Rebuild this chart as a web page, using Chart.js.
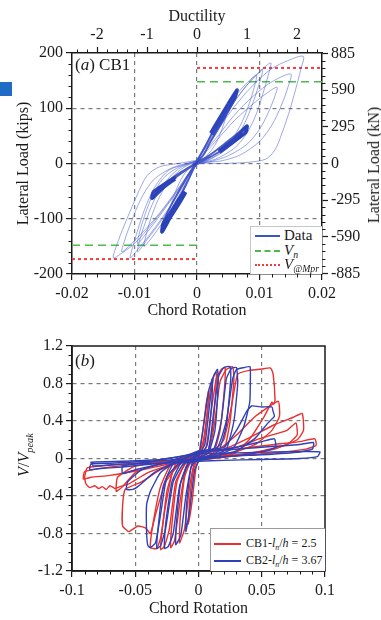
<!DOCTYPE html>
<html>
<head>
<meta charset="utf-8">
<script src="https://cdn.jsdelivr.net/npm/chart.js@4.4.1/dist/chart.umd.min.js"></script>
<style>
html,body{margin:0;padding:0;background:#fff;}
body{width:381px;height:620px;position:relative;overflow:hidden;font-family:'Liberation Serif','Times New Roman',serif;color:#1a1a1a;}
canvas{position:absolute;left:0;}
#ca{top:0;width:381px;height:320px;}
#cb{top:320px;width:381px;height:300px;}
.t{position:absolute;white-space:nowrap;line-height:1;}
.leg{position:absolute;background:#fff;}
.row{position:absolute;left:0;right:0;height:14px;}
.smp{position:absolute;height:0;}
.txt{position:absolute;top:0;line-height:14px;white-space:nowrap;}
sub{font-size:65%;vertical-align:-0.35em;line-height:0;}
</style>
</head>
<body>
<canvas id="ca" width="381" height="320"></canvas>
<canvas id="cb" width="381" height="300"></canvas>

<div style="position:absolute;left:0;top:82px;width:12px;height:14px;background:#1f6cc4;"></div>

<div class="t" style="left:75px;top:56px;font-size:17px;">(<i>a</i>) CB1</div>
<div class="t" style="left:75px;top:352px;font-size:17px;">(<i>b</i>)</div>

<div class="t" style="left:374px;top:165px;font-size:16px;transform:translate(-50%,-50%) rotate(-90deg);">Lateral Load (kN)</div>
<div class="t" style="left:24px;top:455px;font-size:16px;transform:translate(-50%,-50%) rotate(-90deg);"><i>V</i>/<i>V</i><sub><i>peak</i></sub></div>

<div class="leg" style="left:250px;top:226px;width:71px;height:47px;border-left:1px solid #c8c8c8;border-top:1px solid #c8c8c8;">
  <div class="row" style="top:1px;">
    <div class="smp" style="left:4px;width:25px;top:7px;border-top:2px solid #3a55c8;"></div>
    <div class="txt" style="left:33px;font-size:15px;">Data</div>
  </div>
  <div class="row" style="top:16px;">
    <div class="smp" style="left:4px;width:25px;top:7px;border-top:2px dashed #4cbb4c;"></div>
    <div class="txt" style="left:33px;font-size:15px;"><i>V</i><sub><i>n</i></sub></div>
  </div>
  <div class="row" style="top:30px;">
    <div class="smp" style="left:4px;width:25px;top:7px;border-top:2px dotted #f03c3c;"></div>
    <div class="txt" style="left:33px;font-size:15px;"><i>V</i><sub><i>@Mpr</i></sub></div>
  </div>
</div>

<div class="leg" style="left:210px;top:528px;width:114px;height:42px;border:1px solid #9a9a9a;border-right:none;border-bottom:none;">
  <div class="row" style="top:7px;">
    <div class="smp" style="left:3px;width:27px;top:7px;border-top:2px solid #e83030;"></div>
    <div class="txt" style="left:35px;font-size:12px;">CB1-<i>l</i><sub><i>n</i></sub>/<i>h</i> = 2.5</div>
  </div>
  <div class="row" style="top:24px;">
    <div class="smp" style="left:3px;width:27px;top:7px;border-top:2px solid #3040b8;"></div>
    <div class="txt" style="left:35px;font-size:12px;">CB2-<i>l</i><sub><i>n</i></sub>/<i>h</i> = 3.67</div>
  </div>
</div>

<script>
const FONT = "'Liberation Serif','Times New Roman',serif";
const INK = '#1a1a1a';

/* ===== Panel (a): chord rotation (rad) vs lateral load (kips) ===== */
const aXTicks = [-0.02, -0.01, 0, 0.01, 0.02];
const aYTicks = [-200, -100, 0, 100, 200];
const aDuctTicks = [-2, -1, 0, 1, 2];
const aKnTicks = [-885, -590, -295, 0, 295, 590, 885];
const KIPS_TO_KN = 4.4482;
const vnLevels = [148, -148];
const vMprLevels = [173, -173];

const aLoopA = [[0,6],[0.002,38],[0.004,72],[0.006,103],[0.008,130],[0.010,153],[0.012,172],[0.0145,186],[0.017,194],[0.0166,170],[0.0158,135],[0.0148,95],[0.0136,55],[0.0125,25],[0.011,8],[0.008,2],[0.004,0],[0,-2],[-0.002,-30],[-0.004,-62],[-0.006,-92],[-0.008,-120],[-0.010,-145],[-0.012,-162],[-0.0134,-171],[-0.0126,-140],[-0.0112,-100],[-0.0095,-55],[-0.008,-22],[-0.006,-6],[-0.003,0],[0,6]];
const aLoopB = [[0,5],[0.002,40],[0.004,78],[0.006,112],[0.008,142],[0.010,166],[0.0118,182],[0.0114,160],[0.0105,125],[0.0095,90],[0.008,55],[0.006,28],[0.003,8],[0,-2],[-0.002,-35],[-0.004,-72],[-0.006,-105],[-0.008,-135],[-0.0095,-156],[-0.0107,-171],[-0.0102,-148],[-0.0092,-110],[-0.008,-72],[-0.0065,-38],[-0.0045,-12],[-0.002,-2],[0,5]];
const aLoopC = [[0,5],[0.003,45],[0.006,88],[0.009,122],[0.012,148],[0.015,162],[0.0146,140],[0.0135,105],[0.012,70],[0.010,40],[0.007,16],[0.004,5],[0,-2],[-0.003,-45],[-0.006,-90],[-0.009,-128],[-0.012,-160],[-0.0116,-140],[-0.0105,-105],[-0.009,-65],[-0.007,-30],[-0.004,-8],[0,5]];
const aLoopD = [[0,4],[0.003,40],[0.006,78],[0.009,108],[0.011,126],[0.0128,138],[0.0124,120],[0.0114,92],[0.010,62],[0.008,35],[0.005,14],[0.002,3],[0,-2],[-0.003,-48],[-0.006,-95],[-0.008,-125],[-0.0095,-145],[-0.0092,-125],[-0.0084,-95],[-0.0072,-60],[-0.0055,-28],[-0.003,-7],[0,4]];
const aLoopE = [[0,5],[0.002,45],[0.004,85],[0.006,120],[0.008,146],[0.0095,160],[0.0092,140],[0.0084,110],[0.0072,75],[0.0055,42],[0.0035,18],[0.0015,5],[0,-1],[-0.002,-40],[-0.004,-80],[-0.006,-115],[-0.0075,-138],[-0.0085,-150],[-0.0082,-132],[-0.0074,-100],[-0.0062,-65],[-0.0045,-32],[-0.0025,-10],[0,5]];
const aLoopF = [[0,4],[0.002,48],[0.0035,82],[0.005,110],[0.0048,92],[0.004,62],[0.0028,32],[0.0012,10],[0,0],[-0.0015,-35],[-0.003,-70],[-0.0045,-100],[-0.0043,-82],[-0.0035,-52],[-0.0022,-22],[-0.001,-5],[0,4]];
const aLoopG = [[0,5],[0.002,42],[0.004,80],[0.006,113],[0.008,142],[0.0095,160],[0.0105,170],[0.0101,150],[0.0092,118],[0.008,82],[0.0065,50],[0.0045,24],[0.002,7],[0,0],[-0.002,-36],[-0.004,-74],[-0.006,-108],[-0.008,-138],[-0.0095,-160],[-0.0092,-140],[-0.0083,-108],[-0.007,-70],[-0.0052,-36],[-0.003,-10],[0,5]];
const aLoopH = [[0,5],[0.0015,35],[0.003,68],[0.0045,98],[0.0064,133],[0.0062,120],[0.0052,98],[0.0038,70],[0.0022,40],[0.001,15],[0,2],[-0.0012,-25],[-0.0025,-55],[-0.004,-88],[-0.0056,-124],[-0.0055,-110],[-0.0047,-88],[-0.0034,-60],[-0.002,-32],[-0.0008,-10],[0,5]];
const aLoopI = [[0,3],[0.002,15],[0.004,32],[0.006,50],[0.008,68],[0.0078,58],[0.0065,44],[0.0045,28],[0.0025,14],[0.001,5],[0,0],[-0.0015,-10],[-0.003,-22],[-0.005,-40],[-0.0072,-63],[-0.007,-54],[-0.0058,-42],[-0.0042,-28],[-0.0025,-15],[-0.001,-5],[0,3]];
/* heavy finger segments (repeated early cycles) */
const aFinger1 = [[0.0022,55],[0.0035,80],[0.005,108],[0.0064,133],[0.006,118],[0.0048,95],[0.0034,70],[0.0024,52]];
const aFinger2 = [[0.0035,22],[0.0055,40],[0.0068,54],[0.008,68],[0.0078,56],[0.0064,44],[0.005,32],[0.0036,20]];
const aFinger3 = [[-0.0018,-52],[-0.003,-75],[-0.0043,-98],[-0.0056,-124],[-0.0054,-108],[-0.0042,-88],[-0.003,-66],[-0.002,-50]];
const aFinger4 = [[-0.0035,-28],[-0.005,-40],[-0.006,-50],[-0.0072,-63],[-0.007,-52],[-0.0058,-42],[-0.0045,-32],[-0.0034,-25]];

/* ===== Panel (b): chord rotation vs V/Vpeak ===== */
const bXTicks = [-0.1, -0.05, 0, 0.05, 0.1];
const bYTicks = [-1.2, -0.8, -0.4, 0, 0.4, 0.8, 1.2];

const cb1Loop1 = [[0,0],[0.003,0.25],[0.006,0.58],[0.008,0.72],[0.007,0.5],[0.004,0.15],[0.001,0.02],[-0.002,-0.1],[-0.005,-0.45],[-0.008,-0.7],[-0.007,-0.45],[-0.004,-0.12],[-0.001,-0.01],[0,0]];
const cb1Loop2 = [[0,0.02],[0.004,0.2],[0.008,0.6],[0.011,0.85],[0.014,0.92],[0.0135,0.7],[0.011,0.3],[0.007,0.06],[0.002,0.02],[-0.003,-0.04],[-0.007,-0.3],[-0.011,-0.75],[-0.015,-0.9],[-0.0145,-0.65],[-0.011,-0.2],[-0.006,-0.03],[0,0.02]];
const cb1Loop3 = [[0,0.03],[0.006,0.12],[0.01,0.5],[0.014,0.85],[0.018,0.95],[0.021,0.97],[0.0205,0.75],[0.017,0.3],[0.012,0.06],[0.005,0.02],[-0.003,-0.02],[-0.01,-0.1],[-0.015,-0.5],[-0.019,-0.88],[-0.022,-0.95],[-0.021,-0.7],[-0.017,-0.25],[-0.01,-0.04],[0,0.03]];
const cb1Loop4 = [[0,0.04],[0.008,0.08],[0.013,0.4],[0.017,0.82],[0.022,0.95],[0.027,0.98],[0.028,0.85],[0.025,0.4],[0.02,0.08],[0.01,0.02],[0,-0.01],[-0.01,-0.05],[-0.018,-0.25],[-0.023,-0.75],[-0.027,-0.94],[-0.03,-0.97],[-0.029,-0.8],[-0.025,-0.35],[-0.018,-0.06],[-0.008,-0.02],[0,0.04]];
const cb1Loop5 = [[0,0.04],[0.012,0.08],[0.02,0.2],[0.026,0.55],[0.031,0.9],[0.04,0.94],[0.05,0.955],[0.057,0.965],[0.059,0.9],[0.0605,0.62],[0.0595,0.58],[0.058,0.6],[0.052,0.45],[0.04,0.2],[0.028,0.05],[0.015,0.02],[0,0],[-0.012,-0.04],[-0.02,-0.12],[-0.026,-0.5],[-0.03,-0.85],[-0.033,-0.96],[-0.038,-0.95],[-0.036,-0.7],[-0.03,-0.3],[-0.022,-0.07],[-0.01,-0.02],[0,0.04]];
const cb1Loop6 = [[0,0.05],[0.015,0.09],[0.03,0.25],[0.045,0.45],[0.063,0.61],[0.064,0.45],[0.058,0.3],[0.045,0.15],[0.025,0.05],[0.01,0.02],[0,0],[-0.015,-0.04],[-0.03,-0.12],[-0.045,-0.25],[-0.058,-0.33],[-0.06,-0.5],[-0.06,-0.72],[-0.055,-0.78],[-0.048,-0.72],[-0.042,-0.74],[-0.038,-0.8],[-0.034,-0.6],[-0.026,-0.25],[-0.015,-0.06],[0,0.05]];
const cb1Loop7 = [[0,0.06],[0.02,0.1],[0.04,0.22],[0.06,0.36],[0.075,0.44],[0.082,0.48],[0.083,0.3],[0.078,0.2],[0.06,0.1],[0.035,0.04],[0.01,0.01],[0,-0.02],[-0.02,-0.05],[-0.045,-0.12],[-0.07,-0.18],[-0.085,-0.2],[-0.091,-0.22],[-0.09,-0.14],[-0.075,-0.1],[-0.05,-0.06],[-0.02,-0.02],[0,0.06]];
const cb1Loop8 = [[0,0.06],[0.03,0.1],[0.06,0.15],[0.08,0.18],[0.092,0.21],[0.093,0.14],[0.085,0.1],[0.06,0.06],[0.03,0.03],[0,-0.02],[-0.02,-0.06],[-0.04,-0.15],[-0.055,-0.27],[-0.062,-0.3],[-0.066,-0.32],[-0.07,-0.29],[-0.073,-0.33],[-0.076,-0.3],[-0.079,-0.32],[-0.082,-0.29],[-0.086,-0.31],[-0.089,-0.27],[-0.09,-0.2],[-0.088,-0.1],[-0.07,-0.07],[-0.04,-0.04],[-0.01,-0.01],[0,0.06]];
const cb1Loop9 = [[0,0.05],[0.03,0.12],[0.05,0.22],[0.07,0.3],[0.077,0.38],[0.078,0.25],[0.07,0.15],[0.05,0.08],[0.02,0.02],[0,-0.01],[-0.03,-0.05],[-0.05,-0.15],[-0.06,-0.3],[-0.065,-0.35],[-0.064,-0.2],[-0.05,-0.08],[-0.02,-0.02],[0,0.05]];

const cb2Loop1 = [[0,0],[0.004,0.35],[0.008,0.72],[0.011,0.85],[0.0105,0.6],[0.007,0.15],[0.002,0.02],[-0.003,-0.12],[-0.007,-0.55],[-0.01,-0.78],[-0.0095,-0.5],[-0.006,-0.1],[-0.001,0],[0,0]];
const cb2Loop2 = [[0,0.03],[0.005,0.15],[0.009,0.6],[0.012,0.88],[0.015,0.95],[0.0155,0.8],[0.013,0.3],[0.008,0.06],[0.002,0.02],[-0.005,-0.05],[-0.01,-0.4],[-0.014,-0.82],[-0.018,-0.92],[-0.0175,-0.7],[-0.014,-0.25],[-0.008,-0.04],[0,0.03]];
const cb2Loop3 = [[0,0.05],[0.008,0.1],[0.012,0.5],[0.016,0.88],[0.02,0.97],[0.025,0.98],[0.0255,0.85],[0.022,0.35],[0.016,0.08],[0.008,0.03],[0,0],[-0.008,-0.06],[-0.015,-0.3],[-0.02,-0.8],[-0.024,-0.94],[-0.027,-0.96],[-0.026,-0.7],[-0.021,-0.25],[-0.014,-0.05],[-0.006,-0.01],[0,0.05]];
const cb2Loop4 = [[0,0.06],[0.012,0.1],[0.018,0.4],[0.022,0.85],[0.026,0.96],[0.03,0.97],[0.031,0.8],[0.028,0.4],[0.022,0.1],[0.01,0.03],[0,0],[-0.012,-0.06],[-0.02,-0.25],[-0.026,-0.75],[-0.03,-0.93],[-0.033,-0.96],[-0.032,-0.75],[-0.028,-0.3],[-0.02,-0.06],[-0.008,-0.02],[0,0.06]];
const cb2Loop5 = [[0,0.07],[0.015,0.12],[0.022,0.4],[0.027,0.85],[0.03,0.95],[0.036,0.97],[0.0407,0.98],[0.041,0.85],[0.0405,0.6],[0.036,0.35],[0.028,0.12],[0.015,0.03],[0,-0.01],[-0.015,-0.05],[-0.025,-0.2],[-0.03,-0.6],[-0.034,-0.9],[-0.038,-0.95],[-0.04,-0.93],[-0.041,-0.8],[-0.041,-0.49],[-0.038,-0.35],[-0.03,-0.15],[-0.018,-0.04],[0,0.07]];
const cb2Loop6 = [[0,0.08],[0.02,0.12],[0.03,0.3],[0.038,0.5],[0.042,0.56],[0.05,0.55],[0.058,0.55],[0.059,0.5],[0.06,0.45],[0.055,0.38],[0.045,0.22],[0.03,0.08],[0.01,0.02],[0,-0.01],[-0.02,-0.05],[-0.035,-0.15],[-0.048,-0.3],[-0.052,-0.33],[-0.057,-0.33],[-0.056,-0.25],[-0.045,-0.12],[-0.025,-0.04],[0,0.08]];
const cb2Loop7 = [[0,0.07],[0.03,0.1],[0.06,0.13],[0.08,0.15],[0.091,0.17],[0.09,0.1],[0.08,0.07],[0.05,0.04],[0.02,0.02],[0,-0.02],[-0.03,-0.05],[-0.06,-0.09],[-0.08,-0.11],[-0.086,-0.12],[-0.085,-0.06],[-0.07,-0.05],[-0.04,-0.03],[-0.01,0],[0,0.07]];
const cb2Loop8 = [[0,0.05],[0.03,0.06],[0.06,0.07],[0.085,0.075],[0.096,0.07],[0.094,0.02],[0.08,0],[0.05,-0.01],[0.02,-0.02],[0,-0.03],[-0.03,-0.05],[-0.06,-0.06],[-0.083,-0.08],[-0.085,-0.04],[-0.06,-0.03],[-0.03,-0.01],[0,0.05]];
const cb2Loop9 = [[0,0.06],[0.03,0.12],[0.05,0.18],[0.06,0.21],[0.061,0.12],[0.05,0.07],[0.03,0.03],[0,0],[-0.03,-0.06],[-0.05,-0.12],[-0.06,-0.16],[-0.06,-0.08],[-0.04,-0.04],[0,0.06]];

/* ===== helpers ===== */
const pts = arr => arr.map(p => ({x: p[0], y: p[1]}));
const near = (a, b) => Math.abs(a - b) < 1e-9;
const gridCol = (lo, hi) => c => {
  const v = c.tick ? c.tick.value : null;
  if (v === null) return '#7a7a7a';
  return (near(v, lo) || near(v, hi)) ? 'rgba(0,0,0,0)' : '#7a7a7a';
};
const setTicks = list => s => { s.ticks = list.map(v => ({value: v})); };
const tickFont = {family: FONT, size: 16};
const titleFont = {family: FONT, size: 16};
const range = (lo, hi, step, skip) => {
  const out = [];
  const n = Math.round((hi - lo) / step);
  for (let i = 0; i <= n; i++) {
    const v = +(lo + i * step).toFixed(6);
    if (!skip(v)) out.push(v);
  }
  return out;
};

const boxAndMinor = {
  id: 'boxAndMinor',
  afterDraw(chart, args, opts) {
    const ctx = chart.ctx;
    ctx.save();
    ctx.strokeStyle = INK;
    ctx.lineWidth = 1;
    (opts.list || []).forEach(m => {
      const s = chart.scales[m.id];
      if (!s) return;
      m.values.forEach(v => {
        const p = Math.round(s.getPixelForValue(v)) + 0.5;
        ctx.beginPath();
        if (s.position === 'left') { ctx.moveTo(s.right, p); ctx.lineTo(s.right - m.len, p); }
        else if (s.position === 'right') { ctx.moveTo(s.left, p); ctx.lineTo(s.left + m.len, p); }
        else if (s.position === 'top') { ctx.moveTo(p, s.bottom); ctx.lineTo(p, s.bottom - m.len); }
        else { ctx.moveTo(p, s.top); ctx.lineTo(p, s.top + m.len); }
        ctx.stroke();
      });
    });
    if (opts.box) {
      const a = chart.chartArea;
      ctx.lineWidth = 1.5;
      ctx.strokeRect(a.left, a.top, a.right - a.left, a.bottom - a.top);
    }
    ctx.restore();
  }
};

const axisBase = (extra) => Object.assign({
  type: 'linear',
  ticks: {font: tickFont, color: INK, padding: 3, autoSkip: false, maxRotation: 0},
  grid: {lineWidth: 1.2, tickColor: INK, tickLength: 6, tickWidth: 1.2},
  border: {display: true, color: INK, width: 1.5, dash: [4, 4]}
}, extra);

/* ===== Chart (a) ===== */
const thinCol = 'rgba(62,84,205,0.5)';
const midCol = 'rgba(42,64,185,0.85)';
const thickCol = '#2a43b4';
const aThin = [aLoopA, aLoopB, aLoopC, aLoopD, aLoopE, aLoopF, aLoopG];
const aMid = [aLoopH, aLoopI];
const aHeavy = [aFinger1, aFinger2, aFinger3, aFinger4];
const dsA = [];
aThin.forEach(l => dsA.push({data: pts(l), borderColor: thinCol, borderWidth: 1, tension: 0.3}));
aMid.forEach(l => dsA.push({data: pts(l), borderColor: midCol, borderWidth: 1.8, tension: 0.3}));
aHeavy.forEach(l => dsA.push({data: pts(l), borderColor: thickCol, borderWidth: 3.5, tension: 0.2}));
dsA.push({data: pts([[0, vnLevels[0]], [0.02, vnLevels[0]]]), borderColor: '#4cbb4c', borderWidth: 1.6, borderDash: [8, 5]});
dsA.push({data: pts([[-0.02, vnLevels[1]], [0, vnLevels[1]]]), borderColor: '#4cbb4c', borderWidth: 1.6, borderDash: [8, 5]});
dsA.push({data: pts([[0, vMprLevels[0]], [0.02, vMprLevels[0]]]), borderColor: '#f03c3c', borderWidth: 2, borderDash: [3, 3]});
dsA.push({data: pts([[-0.02, vMprLevels[1]], [0, vMprLevels[1]]]), borderColor: '#f03c3c', borderWidth: 2, borderDash: [3, 3]});
dsA.forEach(d => { d.showLine = true; d.pointRadius = 0; d.fill = false; d.xAxisID = 'x'; d.yAxisID = 'y'; });

new Chart(document.getElementById('ca'), {
  type: 'scatter',
  data: {datasets: dsA},
  plugins: [boxAndMinor],
  options: {
    responsive: false, animation: false, events: [],
    layout: {padding: 0},
    plugins: {
      legend: {display: false}, tooltip: {enabled: false},
      boxAndMinor: {box: false, list: [
        {id: 'x', len: 3.5, values: range(-0.02, 0.02, 0.002, v => near(Math.round(v * 100) / 100, v))},
        {id: 'y', len: 3.5, values: range(-200, 200, 20, v => v % 100 === 0)},
        {id: 'xTop', len: 3.5, values: range(-2.4, 2.4, 0.2, v => near(Math.round(v), v))},
        {id: 'yR', len: 3.5, values: range(-826, 826, 59, v => v % 295 === 0)}
      ]}
    },
    scales: {
      x: axisBase({
        position: 'bottom', min: -0.02, max: 0.02,
        afterBuildTicks: setTicks(aXTicks),
        afterFit: s => { s.height = 46; },
        ticks: {font: tickFont, color: INK, padding: 4, autoSkip: false, maxRotation: 0,
          callback: v => { const r = Math.round(v * 100) / 100; return r === 0 ? '0' : r.toFixed(2); }},
        grid: {lineWidth: 1.2, tickColor: INK, tickLength: 6, tickWidth: 1.2, color: gridCol(-0.02, 0.02)},
        title: {display: true, text: 'Chord Rotation', font: titleFont, color: INK, padding: {top: 0, bottom: 0}}
      }),
      xTop: axisBase({
        position: 'top', min: -2.5, max: 2.5,
        afterBuildTicks: setTicks(aDuctTicks),
        afterFit: s => { s.height = 53; },
        ticks: {font: tickFont, color: INK, padding: 3, autoSkip: false, maxRotation: 0, callback: v => String(v)},
        grid: {drawOnChartArea: false, tickColor: INK, tickLength: 6, tickWidth: 1.2},
        title: {display: true, text: 'Ductility', font: titleFont, color: INK, padding: {top: 7, bottom: 0}}
      }),
      y: axisBase({
        position: 'left', min: -200, max: 200,
        afterBuildTicks: setTicks(aYTicks),
        afterFit: s => { s.width = 72; },
        ticks: {font: tickFont, color: INK, padding: 3, autoSkip: false, callback: v => String(v)},
        grid: {lineWidth: 1.2, tickColor: INK, tickLength: 6, tickWidth: 1.2, color: gridCol(-200, 200)},
        title: {display: true, text: 'Lateral Load (kips)', font: titleFont, color: INK, padding: {top: 14, bottom: 0}}
      }),
      yR: axisBase({
        position: 'right', min: -200 * KIPS_TO_KN, max: 200 * KIPS_TO_KN,
        afterBuildTicks: setTicks(aKnTicks),
        afterFit: s => { s.width = 59; },
        ticks: {font: tickFont, color: INK, padding: 3, autoSkip: false, callback: v => String(v)},
        grid: {drawOnChartArea: false, tickColor: INK, tickLength: 6, tickWidth: 1.2}
      })
    }
  }
});

/* ===== Chart (b) ===== */
const redCol = '#ea2f2f';
const blueCol = '#3040b8';
const cb1Loops = [cb1Loop1, cb1Loop2, cb1Loop3, cb1Loop4, cb1Loop5, cb1Loop6, cb1Loop7, cb1Loop8, cb1Loop9];
const cb2Loops = [cb2Loop1, cb2Loop2, cb2Loop3, cb2Loop4, cb2Loop5, cb2Loop6, cb2Loop7, cb2Loop8, cb2Loop9];
const dsB = [];
cb2Loops.forEach(l => dsB.push({data: pts(l), borderColor: blueCol, borderWidth: 1.4, tension: 0.15}));
cb1Loops.forEach(l => dsB.push({data: pts(l), borderColor: redCol, borderWidth: 1.4, tension: 0.15}));
dsB.forEach(d => { d.showLine = true; d.pointRadius = 0; d.fill = false; });

new Chart(document.getElementById('cb'), {
  type: 'scatter',
  data: {datasets: dsB},
  plugins: [boxAndMinor],
  options: {
    responsive: false, animation: false, events: [],
    layout: {padding: {top: 26, right: 56, left: 0, bottom: 0}},
    plugins: {
      legend: {display: false}, tooltip: {enabled: false},
      boxAndMinor: {box: true, list: [
        {id: 'x', len: 3.5, values: range(-0.1, 0.1, 0.01, v => near(Math.round(v * 20) / 20, v))},
        {id: 'y', len: 3.5, values: range(-1.2, 1.2, 0.1, v => near(Math.round(v * 2.5) / 2.5, v))}
      ]}
    },
    scales: {
      x: axisBase({
        position: 'bottom', min: -0.1, max: 0.1,
        afterBuildTicks: setTicks(bXTicks),
        afterFit: s => { s.height = 49; },
        ticks: {font: tickFont, color: INK, padding: 4, autoSkip: false, maxRotation: 0,
          callback: v => { const r = Math.round(v * 100) / 100; return r === 0 ? '0' : String(r); }},
        grid: {lineWidth: 1.2, tickColor: INK, tickLength: 6, tickWidth: 1.2, color: gridCol(-0.1, 0.1)},
        title: {display: true, text: 'Chord Rotation', font: titleFont, color: INK, padding: {top: 0, bottom: 2}}
      }),
      y: axisBase({
        position: 'left', min: -1.2, max: 1.2,
        afterBuildTicks: setTicks(bYTicks),
        afterFit: s => { s.width = 72; },
        ticks: {font: tickFont, color: INK, padding: 3, autoSkip: false,
          callback: v => { const r = Math.round(v * 10) / 10; return r === 0 ? '0' : r.toFixed(1); }},
        grid: {lineWidth: 1.2, tickColor: INK, tickLength: 6, tickWidth: 1.2, color: gridCol(-1.2, 1.2)}
      })
    }
  }
});
</script>
</body>
</html>
